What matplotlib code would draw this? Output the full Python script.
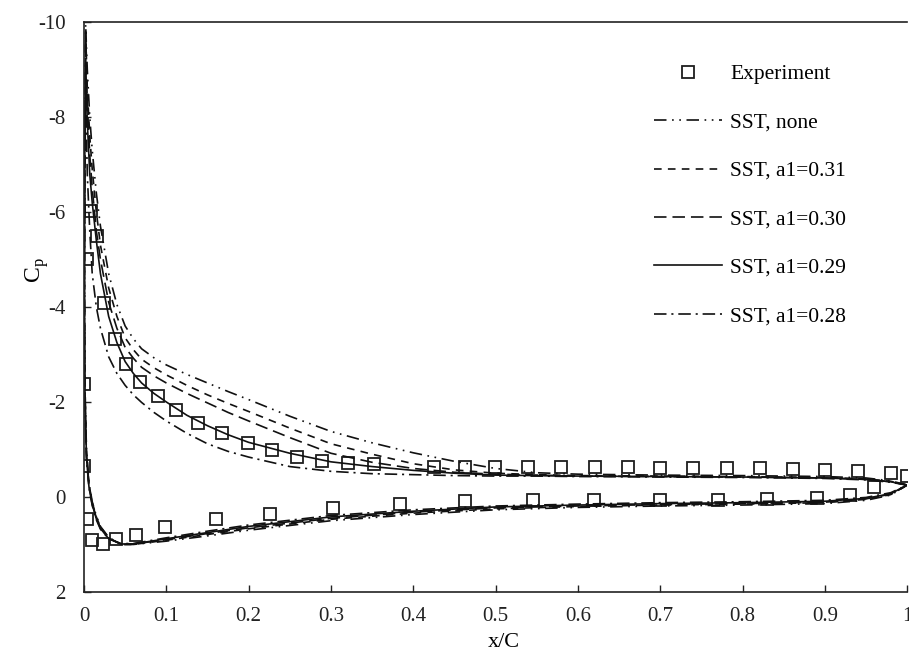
import matplotlib
matplotlib.use('Agg')
import matplotlib.pyplot as plt

plt.rcParams['font.family'] = ['Liberation Serif', 'DejaVu Serif']
plt.rcParams['axes.unicode_minus'] = False
plt.rcParams['lines.scale_dashes'] = False

# experiment, upper (suction) side
exp_x_up = [0.0, 0.004, 0.008, 0.016, 0.024, 0.038, 0.051, 0.068, 0.09, 0.112, 0.139, 0.168,
            0.199, 0.228, 0.259, 0.289, 0.321, 0.352, 0.425, 0.463, 0.499, 0.539, 0.58, 0.621,
            0.661, 0.70, 0.74, 0.781, 0.821, 0.861, 0.90, 0.94, 0.98, 1.0]
exp_cp_up = [-2.38, -5.0, -6.03, -5.5, -4.09, -3.33, -2.81, -2.43, -2.13, -1.84, -1.56, -1.35,
             -1.14, -0.99, -0.84, -0.76, -0.72, -0.70, -0.63, -0.63, -0.63, -0.63, -0.63, -0.63,
             -0.63, -0.62, -0.62, -0.61, -0.60, -0.59, -0.57, -0.54, -0.50, -0.45]
# experiment, lower (pressure) side
exp_x_lo = [0.0, 0.004, 0.01, 0.023, 0.039, 0.063, 0.098, 0.16, 0.226, 0.303, 0.384, 0.463,
            0.545, 0.62, 0.70, 0.77, 0.83, 0.89, 0.93, 0.96]
exp_cp_lo = [-0.65, 0.46, 0.91, 0.99, 0.89, 0.80, 0.63, 0.46, 0.36, 0.23, 0.15, 0.08,
             0.06, 0.06, 0.07, 0.07, 0.05, 0.02, -0.05, -0.2]

# CFD curves: upper surface TE -> LE, around the nose, lower surface LE -> TE
x_up = [1.0, 0.98, 0.95, 0.9, 0.8, 0.7, 0.6, 0.55, 0.5, 0.45, 0.4, 0.35, 0.3, 0.25, 0.2,
        0.175, 0.15, 0.125, 0.1, 0.085, 0.07, 0.06, 0.05, 0.04, 0.03, 0.02, 0.015, 0.01,
        0.007, 0.004, 0.002]
x_nose = [0.001, 0.0005, 0.001, 0.003, 0.006, 0.01, 0.015, 0.02, 0.03, 0.045]
x_lo = [0.06, 0.1, 0.15, 0.2, 0.3, 0.4, 0.5, 0.6, 0.7, 0.8, 0.9, 0.95, 0.98, 1.0]

cp_none_up = [-0.25, -0.34, -0.40, -0.43, -0.45, -0.46, -0.48, -0.51, -0.60, -0.75, -0.93, -1.14,
              -1.38, -1.70, -2.05, -2.22, -2.40, -2.58, -2.78, -2.93, -3.12, -3.33, -3.60,
              -4.05, -4.70, -5.70, -6.40, -7.30, -8.00, -9.00, -9.95]
cp_031_up = [-0.25, -0.33, -0.38, -0.41, -0.43, -0.44, -0.45, -0.47, -0.50, -0.57, -0.70, -0.90,
             -1.12, -1.45, -1.80, -1.97, -2.15, -2.35, -2.57, -2.72, -2.90, -3.10, -3.35,
             -3.80, -4.40, -5.30, -6.00, -6.90, -7.60, -8.60, -9.80]
cp_030_up = [-0.25, -0.32, -0.37, -0.40, -0.42, -0.43, -0.44, -0.46, -0.48, -0.52, -0.60, -0.73,
             -0.92, -1.25, -1.60, -1.78, -1.98, -2.18, -2.40, -2.55, -2.73, -2.92, -3.15,
             -3.55, -4.10, -5.00, -5.60, -6.50, -7.20, -8.30, -9.60]
cp_029_up = [-0.25, -0.32, -0.37, -0.40, -0.42, -0.43, -0.44, -0.45, -0.46, -0.50, -0.56, -0.64,
             -0.74, -0.92, -1.15, -1.31, -1.50, -1.72, -2.00, -2.18, -2.40, -2.60, -2.85,
             -3.25, -3.80, -4.70, -5.40, -6.20, -6.80, -7.90, -9.20]
cp_028_up = [-0.25, -0.31, -0.36, -0.39, -0.41, -0.42, -0.43, -0.44, -0.44, -0.45, -0.47, -0.49,
             -0.54, -0.64, -0.84, -0.96, -1.12, -1.34, -1.60, -1.78, -1.99, -2.15, -2.35,
             -2.60, -2.95, -3.55, -4.00, -4.70, -5.60, -6.80, -8.50]

cp_none_nose = [-8.0, -5.0, -2.5, -1.0, -0.30, 0.10, 0.40, 0.62, 0.85, 1.00]
cp_031_nose = [-7.8, -4.8, -2.4, -0.95, -0.28, 0.12, 0.42, 0.63, 0.86, 1.00]
cp_030_nose = [-7.5, -4.6, -2.3, -0.90, -0.25, 0.14, 0.44, 0.65, 0.87, 0.99]
cp_029_nose = [-7.2, -4.4, -2.2, -0.85, -0.22, 0.16, 0.46, 0.66, 0.88, 0.99]
cp_028_nose = [-6.6, -4.0, -2.0, -0.80, -0.20, 0.18, 0.48, 0.68, 0.88, 0.98]

cp_none_lo = [1.00, 0.93, 0.82, 0.70, 0.50, 0.37, 0.27, 0.22, 0.19, 0.17, 0.14, 0.07, -0.04, -0.25]
cp_031_lo = [1.00, 0.91, 0.79, 0.67, 0.47, 0.34, 0.25, 0.20, 0.17, 0.15, 0.12, 0.05, -0.05, -0.25]
cp_030_lo = [0.99, 0.90, 0.77, 0.65, 0.45, 0.32, 0.23, 0.19, 0.16, 0.14, 0.11, 0.04, -0.06, -0.25]
cp_029_lo = [0.99, 0.88, 0.75, 0.62, 0.42, 0.30, 0.21, 0.17, 0.14, 0.12, 0.09, 0.03, -0.07, -0.25]
cp_028_lo = [0.98, 0.86, 0.72, 0.59, 0.39, 0.27, 0.19, 0.15, 0.12, 0.10, 0.07, 0.01, -0.09, -0.25]

labels = ['SST, none', 'SST, a1=0.31', 'SST, a1=0.30', 'SST, a1=0.29', 'SST, a1=0.28']
cp_sets = [(cp_none_up, cp_none_nose, cp_none_lo),
           (cp_031_up, cp_031_nose, cp_031_lo),
           (cp_030_up, cp_030_nose, cp_030_lo),
           (cp_029_up, cp_029_nose, cp_029_lo),
           (cp_028_up, cp_028_nose, cp_028_lo)]
styles = [(0, (9, 4, 1.2, 4, 1.2, 4)), (0, (5.5, 4.5)), (0, (9, 4.3)), '-', (0, (9, 3.5, 1.5, 3.5))]

fig = plt.figure(figsize=(9.09, 6.57), dpi=100)
ax = fig.add_axes([0.0924, 0.099, 0.9056, 0.8675])

line_color = '#111111'
ax.plot(exp_x_up + exp_x_lo, exp_cp_up + exp_cp_lo, linestyle='none', marker='s', markersize=8,
        markerfacecolor='none', markeredgecolor='#1e1e1e', markeredgewidth=1.3, label='Experiment')

for (up, nose, lo), lab, ls in zip(cp_sets, labels, styles):
    ax.plot(x_up + x_nose + x_lo, up + nose + lo, color=line_color, linestyle=ls, linewidth=1.2,
            label=lab)

ax.set_xlim(0, 1)
ax.set_ylim(2, -10)
ax.set_xticks([0, 0.1, 0.2, 0.3, 0.4, 0.5, 0.6, 0.7, 0.8, 0.9, 1.0])
ax.set_xticklabels(['0', '0.1', '0.2', '0.3', '0.4', '0.5', '0.6', '0.7', '0.8', '0.9', '1'])
ax.set_yticks([2, 0, -2, -4, -6, -8, -10])
ax.set_yticklabels(['2', '0', '-2', '-4', '-6', '-8', '-10'])
ax.tick_params(direction='in', length=5, width=1.0, labelsize=15, colors='#222222')
ax.tick_params(axis='y', pad=13)
ax.tick_params(axis='x', pad=11)

for side in ['left', 'bottom', 'top']:
    ax.spines[side].set_linewidth(1.2)
    ax.spines[side].set_color('#222222')
ax.spines['right'].set_visible(False)

ax.set_xlabel('x/C', fontsize=16)
ax.xaxis.set_label_coords(0.51, -0.072)
ax.set_ylabel(r'C$_\mathregular{p}$', fontsize=17)
ax.yaxis.set_label_coords(-0.04, 0.565)

leg = ax.legend(loc='upper left', bbox_to_anchor=(654 / 909, 1 - 64 / 657),
                bbox_transform=fig.transFigure, frameon=False, fontsize=15.5,
                handlelength=3.16, handletextpad=0.37, labelspacing=1.32,
                borderpad=0, borderaxespad=0, markerscale=1.0)

fig.savefig('out.png', dpi=100)
